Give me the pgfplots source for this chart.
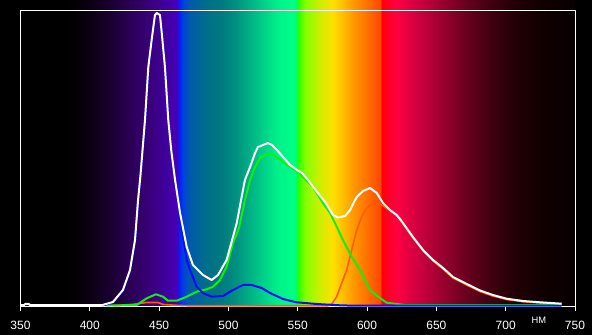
\documentclass[border=0pt]{standalone}
\usepackage{fontspec}
\setmainfont{Liberation Sans}
\usepackage{pgfplots}
\pgfplotsset{compat=1.18}
\definecolor{s01}{HTML}{000000}
\definecolor{s02}{HTML}{0C0014}
\definecolor{s03}{HTML}{1A0030}
\definecolor{s04}{HTML}{2C0058}
\definecolor{s05}{HTML}{3A0080}
\definecolor{s06}{HTML}{4000A0}
\definecolor{s07}{HTML}{4800B8}
\definecolor{s08}{HTML}{0020FF}
\definecolor{s09}{HTML}{0040E0}
\definecolor{s10}{HTML}{005AA8}
\definecolor{s11}{HTML}{007088}
\definecolor{s12}{HTML}{007A80}
\definecolor{s13}{HTML}{009080}
\definecolor{s14}{HTML}{00B084}
\definecolor{s15}{HTML}{00D088}
\definecolor{s16}{HTML}{00F088}
\definecolor{s17}{HTML}{00FF88}
\definecolor{s18}{HTML}{00FF60}
\definecolor{s19}{HTML}{30FF00}
\definecolor{s20}{HTML}{80FF00}
\definecolor{s21}{HTML}{C8F000}
\definecolor{s22}{HTML}{FFE000}
\definecolor{s23}{HTML}{FFC000}
\definecolor{s24}{HTML}{FF9800}
\definecolor{s25}{HTML}{FF7000}
\definecolor{s26}{HTML}{FF4800}
\definecolor{s27}{HTML}{FF0000}
\definecolor{s28}{HTML}{FF0020}
\definecolor{s29}{HTML}{FF0040}
\definecolor{s30}{HTML}{D00040}
\definecolor{s31}{HTML}{A00030}
\definecolor{s32}{HTML}{700020}
\definecolor{s33}{HTML}{400010}
\definecolor{s34}{HTML}{200004}
\definecolor{s35}{HTML}{100000}
\definecolor{s36}{HTML}{080000}
\pgfdeclarehorizontalshading{spectrum}{100bp}{color(0bp)=(s01); color(25bp)=(s01); color(29.5bp)=(s01);
 color(31.25bp)=(s02); color(33.125bp)=(s03); color(35bp)=(s04); color(36.875bp)=(s05);
 color(38.125bp)=(s06); color(39.125bp)=(s07); color(39.3125bp)=(s08); color(39.625bp)=(s09);
 color(40.25bp)=(s10); color(41.875bp)=(s11); color(43.125bp)=(s12); color(44.375bp)=(s13);
 color(45.625bp)=(s14); color(46.875bp)=(s15); color(48.125bp)=(s16); color(49.625bp)=(s17);
 color(49.875bp)=(s18); color(50.0625bp)=(s19); color(50.625bp)=(s20); color(51.875bp)=(s21);
 color(53.125bp)=(s22); color(54bp)=(s23); color(55bp)=(s24); color(56.25bp)=(s25);
 color(57.4375bp)=(s26); color(57.5625bp)=(s27); color(58bp)=(s28); color(58.875bp)=(s29);
 color(60.75bp)=(s30); color(62.75bp)=(s31); color(64.875bp)=(s32); color(67.375bp)=(s33);
 color(69.75bp)=(s34); color(72.125bp)=(s35); color(75bp)=(s36); color(100bp)=(s36)}
\definecolor{cwhite}{HTML}{FFFFFF}
\definecolor{cgreen}{HTML}{10F010}
\definecolor{cblue}{HTML}{0A0AFF}
\definecolor{corange}{HTML}{FF5A00}
\begin{document}
\begin{tikzpicture}
\fill[black] (-15.375pt,-21.75pt) rectangle (428.625pt,229.5pt);
\useasboundingbox (-15.375pt,-21.75pt) rectangle (428.625pt,229.5pt);
\shade[shading=spectrum] (0,0) rectangle (415.875pt,229.5pt);
\begin{axis}[
  at={(0,0)}, anchor=south west,
  scale only axis, width=415.875pt, height=221.625pt,
  xmin=350, xmax=750, ymin=0, ymax=295.5,
  clip=false,
  axis line style={white, line width=0.75pt},
  xtick={350,400,...,750}, ytick=\empty,
  xtick pos=left, tick align=outside,
  major tick length=3.75pt,
  tick style={white, line width=0.75pt},
  /pgf/number format/assume math mode=true,
  xticklabel style={font=\fontsize{9}{10}\selectfont, text=white, anchor=north, inner sep=0pt, yshift=-7.5pt},
  line join=round,
]
\addplot[corange, line width=1.2pt] coordinates {
(416.7,0.3)(431.2,1.7)(441.0,3.5)(449.2,3.5)(452.8,1.5)(462.7,0.7)(469.9,0.3)(572,0.3)
(574.5,2)(578.1,9.3)(581.7,23)(585.3,36)(588.9,56)(592.5,76)(596.1,89.3)(599.7,98)
(603.3,102)(607.0,102.7)(610.6,101)(614.2,97.7)(618.7,93.3)(623.8,88)(625.9,82)(633.1,68)
(640.4,55)(647.6,45)(654.8,37)(662.0,28)(671.9,21)(681.5,14.5)(690.8,10)(700.7,6.5)
(712.5,4.3)(724.8,3)(740.4,1.8)};
\addplot[cgreen, line width=1.5pt] coordinates {
(411.7,0.5)(433.8,1)(441.0,7.7)(447.7,11.7)(452.8,9.3)(456.4,5.3)(462.7,5.3)(469.9,9.3)
(477.1,14.3)(484.3,16.7)(488.9,19.3)(493.9,26)(498.7,39.3)(503.3,63)(507.6,78)(511.9,106)
(515.6,126)(519.2,139)(522.8,148)(527.6,152)(531.2,152)(535.8,148)(540.8,143)(545.6,138)
(550.2,134)(553.8,129)(561.0,119)(568.2,103)(573.3,93)(578.1,79.3)(582.6,66)(588.9,49.3)
(594.9,36)(602.1,16)(607.9,9.3)(614.2,3.3)(621.4,2)(627.4,1)(660,0.8)(740.4,1)};
\addplot[cblue, line width=1.5pt] coordinates {
(408.6,0.5)(416.7,3.5)(423.9,15.5)(429.0,35)(432.6,65)(434.8,105)(436.5,129)(439.8,185)
(442.2,238)(444.6,265)(447.0,290)(448.3,292)(450.6,290)(451.9,272)(454.2,238)(456.6,185)
(458.8,154)(461.5,124)(465.1,88)(469.9,46)(472.3,36)(477.1,19.3)(481.6,13)(487.9,9.3)
(496.1,10)(503.3,16)(510.5,21)(516.8,21)(524.0,18)(530.0,13)(539.4,7)(549.2,3.7)
(563.7,2)(580.5,0.7)(588,0.4)(740.4,0.4)};
\addplot[cwhite, line width=1.5pt] coordinates {
(350,0.8)(352.5,0.8)(353.5,2)(356,2)(357,0.8)(408.6,0.8)(416.7,4)(423.9,16)(429.0,36)
(432.6,66)(434.8,106)(436.5,130)(439.8,186)(442.2,239)(444.6,266)(447.0,291)(448.3,293)
(450.6,291)(451.9,273)(454.2,239)(456.6,186)(458.8,155)(461.5,126)(465.1,93)(469.9,59)
(474.4,41)(481.6,31)(487.9,26)(492.5,31)(498.7,46)(506.0,83)(510.5,116)(511.9,126)
(515.6,139)(519.2,153)(521.3,159)(524.9,161)(528.5,163)(531.4,161)(535.0,156)(539.4,149)
(544.4,141)(549.5,136)(553.1,133)(557.4,126)(563.9,114)(569.7,104)(575.4,91)(579.0,88.5)
(584.1,90)(587.7,96)(592.5,109)(597.1,115)(602.1,118)(607.0,113)(611.5,103)(616.5,96)
(621.4,91)(625.9,83)(633.1,69)(640.4,56)(647.6,46)(654.8,38)(662.0,29)(671.9,22)
(681.5,15.5)(690.8,11)(700.7,7.3)(712.5,5)(724.8,3.7)(740.4,2.3)};
\node[text=white, font=\fontsize{7}{8}\selectfont, inner sep=0pt] at (axis cs:724,-14) {НМ};
\end{axis}
\end{tikzpicture}
\end{document}
